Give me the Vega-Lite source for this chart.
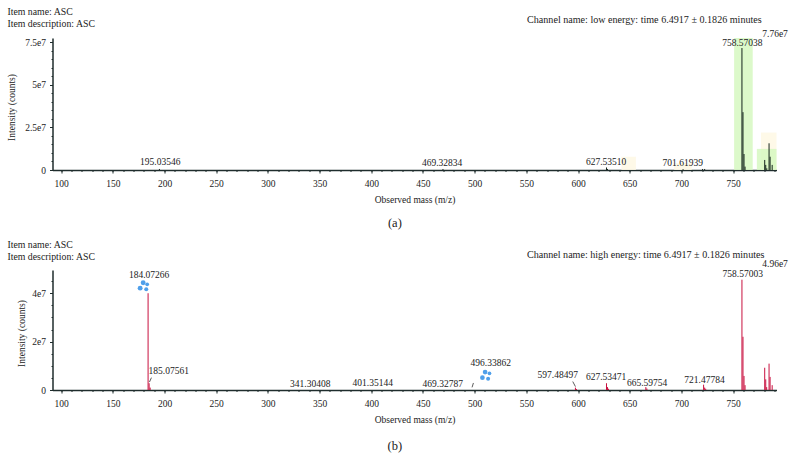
{
"$schema":"https://vega.github.io/schema/vega-lite/v6.json",
"padding":{"left":5.5,"top":6,"right":2,"bottom":2},
"background":"white",
"config":{"view":{"stroke":null},"font":"Liberation Serif","text":{"font":"Liberation Serif"}},
"bounds":"flush",
"spacing":100,
"datasets":{
"regA":[
{"x0":777,"x1":792,"top":2.2e7,"kind":"pale"},
{"x0":642,"x1":656,"top":0.78e7,"kind":"pale"},
{"x0":693,"x1":710,"top":0.4e7,"kind":"pale"},
{"x0":751,"x1":769,"top":7.76e7,"kind":"green"},
{"x0":773,"x1":792,"top":1.24e7,"kind":"green"}],
"peaksA":[
{"mz":195.03,"i":0.06e7},{"mz":469.33,"i":0.06e7},{"mz":627.53,"i":0.15e7},{"mz":628.5,"i":0.06e7},{"mz":701.62,"i":0.05e7},{"mz":720.5,"i":0.06e7},{"mz":722.5,"i":0.06e7},
{"mz":758.57,"i":7.17e7},{"mz":759.57,"i":3.4e7},{"mz":760.57,"i":0.94e7},{"mz":761.57,"i":0.2e7},
{"mz":780.6,"i":0.59e7},{"mz":781.6,"i":0.3e7},{"mz":782.6,"i":0.1e7},{"mz":784.8,"i":1.57e7},{"mz":785.8,"i":0.78e7},{"mz":787.8,"i":0.3e7}],
"peaksB":[
{"mz":184.07,"i":4.0e7},{"mz":185.07,"i":0.28e7},{"mz":186.07,"i":0.1e7},
{"mz":597.48,"i":0.1e7},{"mz":598.5,"i":0.04e7},{"mz":627.53,"i":0.28e7},{"mz":628.5,"i":0.12e7},{"mz":629.5,"i":0.05e7},
{"mz":665.6,"i":0.12e7},{"mz":666.6,"i":0.06e7},{"mz":721.48,"i":0.22e7},{"mz":722.5,"i":0.1e7},{"mz":723.5,"i":0.05e7},
{"mz":758.57,"i":4.56e7},{"mz":759.57,"i":2.2e7},{"mz":760.57,"i":0.58e7},{"mz":761.57,"i":0.2e7},
{"mz":780.6,"i":0.92e7},{"mz":781.6,"i":0.44e7},{"mz":782.5,"i":0.12e7},{"mz":784.8,"i":1.09e7},{"mz":785.8,"i":0.54e7},{"mz":787.8,"i":0.2e7}],
"labelsA":[
{"mz":48,"i":9.29e7,"t":"Item name: ASC","a":"left"},
{"mz":48,"i":8.59e7,"t":"Item description: ASC","a":"left"},
{"mz":777.7,"i":8.82e7,"t":"Channel name: low energy: time 6.4917 ± 0.1826 minutes","a":"right"},
{"mz":803,"i":8.0e7,"t":"7.76e7","a":"small"},
{"mz":759,"i":7.47e7,"t":"758.57038","a":"center"},
{"mz":195.8,"i":0.49e7,"t":"195.03546","a":"center"},
{"mz":468.5,"i":0.43e7,"t":"469.32834","a":"center"},
{"mz":627.2,"i":0.49e7,"t":"627.53510","a":"center"},
{"mz":701.3,"i":0.43e7,"t":"701.61939","a":"center"},
{"mz":422.8,"i":-3.1e7,"t":"(a)","a":"big"}],
"labelsB":[
{"mz":48,"i":6.0e7,"t":"Item name: ASC","a":"left"},
{"mz":48,"i":5.51e7,"t":"Item description: ASC","a":"left"},
{"mz":780.3,"i":5.6e7,"t":"Channel name: high energy: time 6.4917 ± 0.1826 minutes","a":"right"},
{"mz":803,"i":5.21e7,"t":"4.96e7","a":"small"},
{"mz":185.1,"i":4.77e7,"t":"184.07266","a":"center"},
{"mz":204.1,"i":0.77e7,"t":"185.07561","a":"center"},
{"mz":341,"i":0.26e7,"t":"341.30408","a":"center"},
{"mz":401.4,"i":0.29e7,"t":"401.35144","a":"center"},
{"mz":469.1,"i":0.25e7,"t":"469.32787","a":"center"},
{"mz":515.6,"i":1.13e7,"t":"496.33862","a":"center"},
{"mz":580.4,"i":0.62e7,"t":"597.48497","a":"center"},
{"mz":627.2,"i":0.54e7,"t":"627.53471","a":"center"},
{"mz":666.8,"i":0.3e7,"t":"665.59754","a":"center"},
{"mz":722.3,"i":0.41e7,"t":"721.47784","a":"center"},
{"mz":759.3,"i":4.78e7,"t":"758.57003","a":"center"},
{"mz":422.8,"i":-2.3e7,"t":"(b)","a":"big"}],
"leadersB":[
{"x0":185.4,"x1":187.3,"y0":0.33e7,"y1":0.51e7},
{"x0":497.5,"x1":498.8,"y0":0.11e7,"y1":0.29e7},
{"x0":597.5,"x1":594.9,"y0":0.14e7,"y1":0.35e7}],
"dotsB":[
{"mz":179.3,"i":4.43e7,"s":24},{"mz":183.2,"i":4.37e7,"s":14},{"mz":176.4,"i":4.21e7,"s":24},{"mz":182.3,"i":4.16e7,"s":16},
{"mz":510.1,"i":0.74e7,"s":22},{"mz":514.3,"i":0.69e7,"s":14},{"mz":507.5,"i":0.51e7,"s":22},{"mz":513,"i":0.47e7,"s":16}]
},
"vconcat":[
{"width":724,"height":132,
"resolve":{"axis":{"x":"independent","y":"independent"}},
"layer":[
{"data":{"name":"regA"},"mark":{"type":"rect","opacity":0.8},
"encoding":{
"x":{"field":"x0","type":"quantitative","scale":{"domain":[91.6,792],"nice":false},
"axis":{"orient":"bottom","values":[100,110,120,130,140,150,160,170,180,190,200,210,220,230,240,250,260,270,280,290,300,310,320,330,340,350,360,370,380,390,400,410,420,430,440,450,460,470,480,490,500,510,520,530,540,550,560,570,580,590,600,610,620,630,640,650,660,670,680,690,700,710,720,730,740,750,760,770,780,790],"labels":false,"domain":false,"tickSize":1.5,"tickColor":"#1f2d2d","title":null,"grid":false}},
"x2":{"field":"x1"},
"y":{"field":"top","type":"quantitative","scale":{"domain":[0,7.76e7],"nice":false},
"axis":{"orient":"left","values":[0,0.5e7,1e7,1.5e7,2e7,2.5e7,3e7,3.5e7,4e7,4.5e7,5e7,5.5e7,6e7,6.5e7,7e7,7.5e7],"labels":false,"domain":false,"tickSize":1.5,"tickColor":"#1f2d2d","title":null,"grid":false}},
"y2":{"datum":0},
"color":{"field":"kind","type":"nominal","legend":null,"scale":{"domain":["green","pale"],"range":["#d3f8bd","#fef8e2"]}}}},
{"data":{"name":"peaksA"},"mark":{"type":"rule","color":"#14241c","strokeWidth":1},
"encoding":{
"x":{"field":"mz","type":"quantitative","axis":{"orient":"bottom","values":[100,150,200,250,300,350,400,450,500,550,600,650,700,750],"domainColor":"#1f2d2d","domainWidth":1.5,"tickColor":"#1f2d2d","tickSize":3,"labelFontSize":9.5,"labelColor":"#222","labelPadding":5,"labelFont":"Liberation Serif","grid":false,"title":"Observed mass (m/z)","titleFontSize":9.5,"titleFontWeight":"normal","titleColor":"#222","titleFont":"Liberation Serif","titlePadding":7}},
"y":{"field":"i","type":"quantitative","axis":{"orient":"left","values":[0,2.5e7,5e7,7.5e7],"labelExpr":"datum.value==0?'0':replace(format(datum.value,'.2~e'),'+','')","domainColor":"#1f2d2d","domainWidth":1.5,"tickColor":"#1f2d2d","tickSize":3,"labelFontSize":9.5,"labelColor":"#222","labelPadding":4,"labelFont":"Liberation Serif","grid":false,"title":"Intensity (counts)","titleFontSize":9.5,"titleFontWeight":"normal","titleColor":"#222","titleFont":"Liberation Serif","titleX":-36,"titleY":69}},
"y2":{"datum":0}}},
{"data":{"name":"labelsA"},"transform":[{"filter":"datum.a=='center'"}],"mark":{"type":"text","fontSize":9.5,"color":"#222","align":"center"},
"encoding":{"x":{"field":"mz","type":"quantitative","axis":null},"y":{"field":"i","type":"quantitative","axis":null},"text":{"field":"t"}}},
{"data":{"name":"labelsA"},"transform":[{"filter":"datum.a=='left'"}],"mark":{"type":"text","fontSize":9.8,"color":"#222","align":"left"},
"encoding":{"x":{"field":"mz","type":"quantitative","axis":null},"y":{"field":"i","type":"quantitative","axis":null},"text":{"field":"t"}}},
{"data":{"name":"labelsA"},"transform":[{"filter":"datum.a=='right'"}],"mark":{"type":"text","fontSize":10.1,"color":"#222","align":"right"},
"encoding":{"x":{"field":"mz","type":"quantitative","axis":null},"y":{"field":"i","type":"quantitative","axis":null},"text":{"field":"t"}}},
{"data":{"name":"labelsA"},"transform":[{"filter":"datum.a=='small'"}],"mark":{"type":"text","fontSize":9.5,"color":"#222","align":"right"},
"encoding":{"x":{"field":"mz","type":"quantitative","axis":null},"y":{"field":"i","type":"quantitative","axis":null},"text":{"field":"t"}}},
{"data":{"name":"labelsA"},"transform":[{"filter":"datum.a=='big'"}],"mark":{"type":"text","fontSize":12.5,"color":"#222","align":"center"},
"encoding":{"x":{"field":"mz","type":"quantitative","axis":null},"y":{"field":"i","type":"quantitative","axis":null},"text":{"field":"t"}}}
]},
{"width":724,"height":120,
"resolve":{"axis":{"x":"independent","y":"independent"}},
"layer":[
{"data":{"name":"dotsB"},"mark":{"type":"circle","color":"#4f9fea","opacity":1},
"encoding":{
"x":{"field":"mz","type":"quantitative","scale":{"domain":[91.6,792],"nice":false},
"axis":{"orient":"bottom","values":[100,110,120,130,140,150,160,170,180,190,200,210,220,230,240,250,260,270,280,290,300,310,320,330,340,350,360,370,380,390,400,410,420,430,440,450,460,470,480,490,500,510,520,530,540,550,560,570,580,590,600,610,620,630,640,650,660,670,680,690,700,710,720,730,740,750,760,770,780,790],"labels":false,"domain":false,"tickSize":1.5,"tickColor":"#1f2d2d","title":null,"grid":false}},
"y":{"field":"i","type":"quantitative","scale":{"domain":[0,4.96e7],"nice":false},
"axis":{"orient":"left","values":[0,0.5e7,1e7,1.5e7,2e7,2.5e7,3e7,3.5e7,4e7,4.5e7],"labels":false,"domain":false,"tickSize":1.5,"tickColor":"#1f2d2d","title":null,"grid":false}},
"size":{"field":"s","type":"quantitative","scale":null}}},
{"data":{"name":"peaksB"},"mark":{"type":"rule","color":"#c8103f","strokeWidth":1},
"encoding":{
"x":{"field":"mz","type":"quantitative","axis":{"orient":"bottom","values":[100,150,200,250,300,350,400,450,500,550,600,650,700,750],"domainColor":"#1f2d2d","domainWidth":1.5,"tickColor":"#1f2d2d","tickSize":3,"labelFontSize":9.5,"labelColor":"#222","labelPadding":5,"labelFont":"Liberation Serif","grid":false,"title":"Observed mass (m/z)","titleFontSize":9.5,"titleFontWeight":"normal","titleColor":"#222","titleFont":"Liberation Serif","titlePadding":7}},
"y":{"field":"i","type":"quantitative","axis":{"orient":"left","values":[0,2e7,4e7],"labelExpr":"datum.value==0?'0':replace(format(datum.value,'.2~e'),'+','')","domainColor":"#1f2d2d","domainWidth":1.5,"tickColor":"#1f2d2d","tickSize":3,"labelFontSize":9.5,"labelColor":"#222","labelPadding":4,"labelFont":"Liberation Serif","grid":false,"title":"Intensity (counts)","titleFontSize":9.5,"titleFontWeight":"normal","titleColor":"#222","titleFont":"Liberation Serif","titleX":-26,"titleY":63}},
"y2":{"datum":0}}},
{"data":{"name":"leadersB"},"mark":{"type":"rule","color":"#333","strokeWidth":0.8},
"encoding":{"x":{"field":"x0","type":"quantitative","axis":null},"x2":{"field":"x1"},"y":{"field":"y0","type":"quantitative","axis":null},"y2":{"field":"y1"}}},
{"data":{"name":"labelsB"},"transform":[{"filter":"datum.a=='center'"}],"mark":{"type":"text","fontSize":9.5,"color":"#222","align":"center"},
"encoding":{"x":{"field":"mz","type":"quantitative","axis":null},"y":{"field":"i","type":"quantitative","axis":null},"text":{"field":"t"}}},
{"data":{"name":"labelsB"},"transform":[{"filter":"datum.a=='left'"}],"mark":{"type":"text","fontSize":9.8,"color":"#222","align":"left"},
"encoding":{"x":{"field":"mz","type":"quantitative","axis":null},"y":{"field":"i","type":"quantitative","axis":null},"text":{"field":"t"}}},
{"data":{"name":"labelsB"},"transform":[{"filter":"datum.a=='right'"}],"mark":{"type":"text","fontSize":10.1,"color":"#222","align":"right"},
"encoding":{"x":{"field":"mz","type":"quantitative","axis":null},"y":{"field":"i","type":"quantitative","axis":null},"text":{"field":"t"}}},
{"data":{"name":"labelsB"},"transform":[{"filter":"datum.a=='small'"}],"mark":{"type":"text","fontSize":9.5,"color":"#222","align":"right"},
"encoding":{"x":{"field":"mz","type":"quantitative","axis":null},"y":{"field":"i","type":"quantitative","axis":null},"text":{"field":"t"}}},
{"data":{"name":"labelsB"},"transform":[{"filter":"datum.a=='big'"}],"mark":{"type":"text","fontSize":12.5,"color":"#222","align":"center"},
"encoding":{"x":{"field":"mz","type":"quantitative","axis":null},"y":{"field":"i","type":"quantitative","axis":null},"text":{"field":"t"}}}
]}
]}
